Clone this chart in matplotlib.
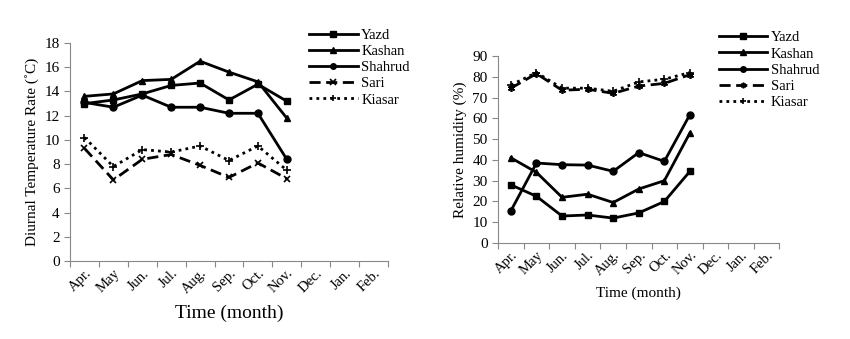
import matplotlib.pyplot as plt
import numpy as np

plt.rcParams['font.family'] = ['Liberation Serif', 'DejaVu Serif']

months = ['Apr.', 'May', 'Jun.', 'Jul.', 'Aug.', 'Sep.', 'Oct.', 'Nov.', 'Dec.', 'Jan.', 'Feb.']
stations = ['Yazd', 'Kashan', 'Shahrud', 'Sari', 'Kiasar']

# diurnal temperature range (C), Apr..Nov
dtr_yazd = [13.0, 13.3, 13.8, 14.5, 14.7, 13.3, 14.6, 13.2]
dtr_kashan = [13.6, 13.8, 14.9, 15.0, 16.5, 15.6, 14.8, 11.8]
dtr_shahrud = [13.1, 12.7, 13.7, 12.7, 12.7, 12.2, 12.2, 8.4]
dtr_sari = [9.3, 6.7, 8.4, 8.8, 7.9, 6.9, 8.1, 6.8]
dtr_kiasar = [10.2, 7.8, 9.2, 9.0, 9.5, 8.3, 9.5, 7.5]

# relative humidity (%), Apr..Nov
rh_yazd = [28, 22.5, 13, 13.5, 12, 14.5, 20, 34.5]
rh_kashan = [41, 34, 22, 23.5, 19.5, 26, 30, 53]
rh_shahrud = [15.5, 38.5, 37.7, 37.5, 34.5, 43.5, 39.3, 61.8]
rh_sari = [74.5, 81.5, 73.5, 74, 72, 75.5, 76.8, 81]
rh_kiasar = [76, 82, 74.5, 74.5, 73, 77.5, 78.8, 82]

styles = [
    dict(ls='-', marker='s', ms=5),
    dict(ls='-', marker='^', ms=5),
    dict(ls='-', marker='o', ms=5),
    dict(ls=(0, (4, 2)), marker='x', ms=5, mew=1.2),
    dict(ls=(0, (1, 1.5)), marker='+', ms=6, mew=1.2),
]

fig = plt.figure(figsize=(8.5, 3.39), dpi=100)
ax1 = fig.add_axes([0.0824, 0.230, 0.374, 0.643])
ax2 = fig.add_axes([0.586, 0.283, 0.331, 0.552])


def setup(ax, ylim, step, ylabel, xlabel, xlabel_size):
    n = len(months)
    ax.set_xlim(0, n)
    ax.set_ylim(0, ylim)
    ax.set_yticks(np.arange(0, ylim + 1, step))
    ax.set_xticks(np.arange(0, n + 1))
    ax.set_xticklabels([])
    ax.set_xticks(np.arange(n) + 0.5, minor=True)
    ax.set_xticklabels(months, minor=True, rotation=45, ha='right',
                       rotation_mode='anchor', fontsize=10.5)
    ax.tick_params(axis='x', which='minor', length=0, pad=4)
    ax.tick_params(axis='x', which='major', length=4, color='#888888', direction='out')
    ax.tick_params(axis='y', length=4, color='#888888', direction='out', labelsize=11)
    for s in ['top', 'right']:
        ax.spines[s].set_visible(False)
    for s in ['left', 'bottom']:
        ax.spines[s].set_color('#888888')
    ax.set_ylabel(ylabel, fontsize=11)
    ax.set_xlabel(xlabel, fontsize=xlabel_size)


x = np.arange(8) + 0.5
for name, vals, st in zip(stations, [dtr_yazd, dtr_kashan, dtr_shahrud, dtr_sari, dtr_kiasar], styles):
    ax1.plot(x, vals, color='black', lw=2, label=name, **st)
setup(ax1, 18, 2, 'Diurnal Temperature Rate (˚C)', 'Time (month)', 14)
ax1.xaxis.labelpad = 6

styles2 = [dict(s) for s in styles]
styles2[3]['marker'] = (6, 2, 0)
for name, vals, st in zip(stations, [rh_yazd, rh_kashan, rh_shahrud, rh_sari, rh_kiasar], styles2):
    ax2.plot(x, vals, color='black', lw=2, label=name, **st)
setup(ax2, 90, 10, 'Relative humidity (%)', 'Time (month)', 11)
ax2.xaxis.labelpad = 6

for ax, pos in [(ax1, (0.364, 0.915)), (ax2, (0.846, 0.908))]:
    h, l = ax.get_legend_handles_labels()
    fig.legend(h, l, loc='upper left', bbox_to_anchor=pos, frameon=False,
               fontsize=10.5, handlelength=3.3, handletextpad=0.25,
               labelspacing=0.2, borderaxespad=0, borderpad=0, markerscale=0.8)

fig.savefig('out.png', dpi=100)
